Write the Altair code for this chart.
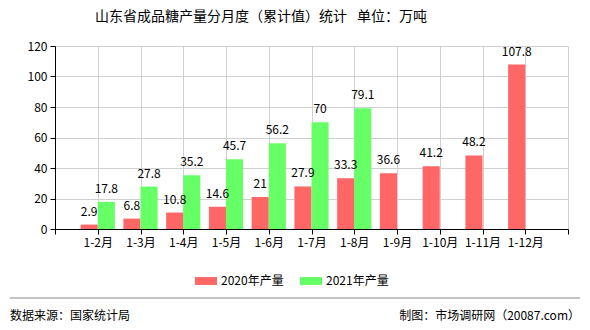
import altair as alt
import pandas as pd

cats = ["1-2月", "1-3月", "1-4月", "1-5月", "1-6月", "1-7月", "1-8月", "1-9月", "1-10月", "1-11月", "1-12月"]
v2020 = [2.9, 6.8, 10.8, 14.6, 21, 27.9, 33.3, 36.6, 41.2, 48.2, 107.8]
v2021 = [17.8, 27.8, 35.2, 45.7, 56.2, 70, 79.1, None, None, None, None]
series = ["2020年产量", "2021年产量"]
y_ticks = [0, 20, 40, 60, 80, 100, 120]

rows = []
for i, c in enumerate(cats):
    for s, vals in zip(series, [v2020, v2021]):
        v = vals[i]
        if v is not None:
            rows.append({"idx": i + 1, "cat": c, "series": s, "value": v,
                         "label": (str(v) if v != int(v) else str(int(v)))})
df = pd.DataFrame(rows)

FONT = "Noto Sans CJK SC"
label_arr = "[''," + ",".join("'" + c + "'" for c in cats) + ",'']"

base = alt.Chart(df).transform_calculate(
    x0="datum.series == '2020年产量' ? datum.idx - 0.4 : datum.idx",
).transform_calculate(
    x1="datum.x0 + 0.4", xm="datum.x0 + 0.2"
)

xscale = alt.Scale(domain=[0, 12], nice=False, zero=False)
yscale = alt.Scale(domain=[0, 120], nice=False)

bars = base.mark_bar().encode(
    x=alt.X("x0:Q", scale=xscale, title=None,
            axis=alt.Axis(values=list(range(13)), labelExpr=label_arr + "[datum.value]",
                          grid=True, gridColor="#d0d0d0", domainColor="#000000",
                          tickColor="#000000", tickSize=5, labelFont=FONT, labelFontSize=12,
                          labelColor="#000000", labelPadding=3, labelFlush=False,
                          labelOverlap=False)),
    x2="x1:Q",
    y=alt.Y("value:Q", scale=yscale, title=None,
            axis=alt.Axis(values=y_ticks, grid=True, gridColor="#d0d0d0",
                          domainColor="#000000", tickColor="#000000", tickSize=5,
                          labelFont=FONT, labelFontSize=12, labelColor="#000000",
                          labelPadding=3, labelOverlap=False)),
    y2=alt.Y2(datum=0),
    color=alt.Color("series:N", scale=alt.Scale(domain=series, range=["#FF6666", "#66FF66"]),
                    legend=alt.Legend(title=None, orient="none", direction="horizontal",
                                      legendX=140, legendY=224,
                                      symbolType="M-1,-0.36L1,-0.36L1,0.36L-1,0.36Z",
                                      symbolSize=484, symbolStrokeWidth=0, symbolOpacity=1,
                                      labelFont=FONT, labelFontSize=12, labelColor="#000000",
                                      columnPadding=16, labelOffset=4)),
)

texts = base.mark_text(baseline="bottom", dy=-6, font=FONT, fontSize=12, color="#000000").encode(
    x=alt.X("xm:Q", scale=xscale, axis=None),
    y=alt.Y("value:Q", scale=yscale, axis=None),
    text="label:N",
)

ann = pd.DataFrame({"a": [0]})
title = alt.Chart(ann).mark_text(font=FONT, fontSize=14, align="center", baseline="middle",
                                 color="#000000").encode(
    x=alt.value(206), y=alt.value(-29),
    text=alt.value("山东省成品糖产量分月度（累计值）统计\u2002\u2009单位：万吨"))
rule = alt.Chart(ann).mark_rule(color="#888888", strokeWidth=1).encode(
    x=alt.value(-45), x2=alt.value(525), y=alt.value(252))
foot_l = alt.Chart(ann).mark_text(font=FONT, fontSize=12, align="left", baseline="middle",
                                  color="#000000").encode(
    x=alt.value(-45), y=alt.value(270), text=alt.value("数据来源：国家统计局"))
foot_r = alt.Chart(ann).mark_text(font=FONT, fontSize=12, align="right", baseline="middle",
                                  color="#000000").encode(
    x=alt.value(525), y=alt.value(270), text=alt.value("制图：市场调研网（20087.com）"))

chart = alt.layer(bars, texts, title, rule, foot_l, foot_r).resolve_axis(
    x="independent", y="independent"
).properties(
    width=513, height=183,
    autosize=alt.AutoSizeParams(type="none"),
    padding={"left": 55, "top": 46, "right": 22, "bottom": 101},
    background="#ffffff",
).configure_view(stroke=None)

chart.save("out.html", embed_options={"renderer": "svg", "actions": False})
